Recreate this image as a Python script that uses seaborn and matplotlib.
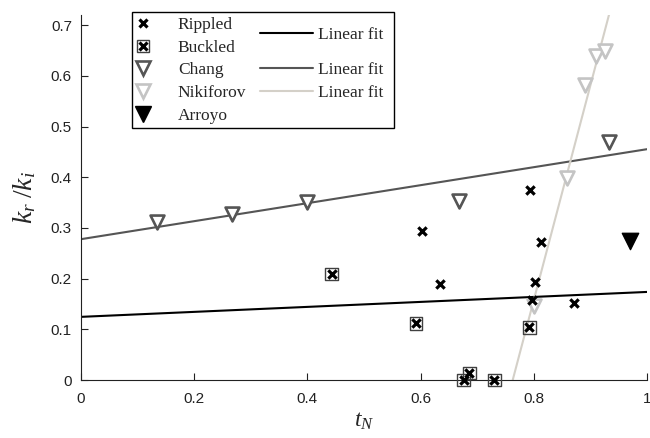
import numpy as np
import matplotlib
matplotlib.use('Agg')
import matplotlib.pyplot as plt
import seaborn as sns
from matplotlib.lines import Line2D
from matplotlib.patches import Rectangle
from matplotlib.ticker import FormatStrFormatter

# data
rippled_t = [0.603, 0.634, 0.794, 0.812, 0.802, 0.797, 0.871]
rippled_k = [0.293, 0.190, 0.374, 0.273, 0.194, 0.158, 0.152]
buckled_t = [0.443, 0.592, 0.792, 0.686, 0.676, 0.730]
buckled_k = [0.209, 0.112, 0.104, 0.014, 0.000, 0.000]
chang_t = [0.134, 0.266, 0.400, 0.667, 0.933]
chang_k = [0.311, 0.328, 0.352, 0.354, 0.470]
nikiforov_t = [0.800, 0.858, 0.890, 0.910, 0.926]
nikiforov_k = [0.146, 0.399, 0.581, 0.640, 0.649]
arroyo_t = [0.970]
arroyo_k = [0.275]

x_ticks = [0, 0.2, 0.4, 0.6, 0.8, 1.0]
y_ticks = [0, 0.1, 0.2, 0.3, 0.4, 0.5, 0.6, 0.7]

sns.set_style('ticks')
plt.rcParams['font.family'] = ['Liberation Sans', 'DejaVu Sans']
plt.rcParams['mathtext.fontset'] = 'custom'
plt.rcParams['mathtext.it'] = 'Liberation Serif:italic'
plt.rcParams['mathtext.rm'] = 'Liberation Serif'
plt.rcParams['xtick.direction'] = 'in'
plt.rcParams['ytick.direction'] = 'in'

dark = '#555555'
light = '#c4c4c4'
fitlight = '#d4d0c8'

fig = plt.figure(figsize=(6.5, 4.38), dpi=100)
ax = fig.add_axes([81/650, 1-380/438, 566/650, 365/438])

# linear fits (rippled fit uses all wrinkled samples)
xs = np.linspace(0, 1, 200)
p_all = np.polyfit(rippled_t + buckled_t, rippled_k + buckled_k, 1)
p_chang = np.polyfit(chang_t, chang_k, 1)
p_nik = np.polyfit(nikiforov_t, nikiforov_k, 1)
sns.lineplot(x=xs, y=np.polyval(p_all, xs), color='black', lw=1.5, ax=ax, zorder=2)
sns.lineplot(x=xs, y=np.polyval(p_chang, xs), color=dark, lw=1.5, ax=ax, zorder=2)
sns.lineplot(x=xs, y=np.polyval(p_nik, xs), color=fitlight, lw=1.5, ax=ax, zorder=2)

# markers
sns.scatterplot(x=buckled_t, y=buckled_k, marker='s', s=85, facecolor='none',
                edgecolor='#404040', linewidth=1.0, ax=ax, zorder=3, clip_on=False)
sns.scatterplot(x=buckled_t, y=buckled_k, marker='x', s=36, color='black',
                linewidth=2.3, ax=ax, zorder=4, clip_on=False)
sns.scatterplot(x=rippled_t, y=rippled_k, marker='x', s=36, color='black',
                linewidth=2.3, ax=ax, zorder=4)
sns.scatterplot(x=chang_t, y=chang_k, marker='v', s=100, facecolor='white',
                edgecolor=dark, linewidth=1.9, ax=ax, zorder=3)
sns.scatterplot(x=nikiforov_t, y=nikiforov_k, marker='v', s=100, facecolor='white',
                edgecolor=light, linewidth=1.9, ax=ax, zorder=3)
sns.scatterplot(x=arroyo_t, y=arroyo_k, marker='v', s=140, color='black',
                edgecolor='black', ax=ax, zorder=3)

ax.set_xlim(0, 1)
ax.set_ylim(0, 0.72)
ax.set_xticks(x_ticks)
ax.set_yticks(y_ticks)
ax.xaxis.set_major_formatter(FormatStrFormatter('%g'))
ax.yaxis.set_major_formatter(FormatStrFormatter('%g'))
ax.tick_params(labelsize=11, length=5, width=0.8, colors='#222222')
ax.tick_params(axis='x', pad=8.5)
ax.tick_params(axis='y', pad=6.5)
sns.despine(ax=ax)
for s in ['left', 'bottom']:
    ax.spines[s].set_color('#222222')
    ax.spines[s].set_linewidth(0.8)

ax.set_xlabel(r'$t_N$', fontsize=17, labelpad=3)
ax.set_ylabel(r'$k_r\;/k_i$', fontsize=20, labelpad=9)

# legend: marker column plus the fit lines, inside one frame
lp = {'family': 'Liberation Serif', 'size': 12.5}
h_rip = Line2D([], [], ls='none', marker='x', ms=6, mew=2.3, color='black')
h_sq = Line2D([], [], ls='none', marker='s', ms=9.2, mew=1.0, mfc='none', mec='#404040')
h_buc = (h_sq, h_rip)
h_chang = Line2D([], [], ls='none', marker='v', ms=10, mew=1.9, mfc='white', mec=dark)
h_nik = Line2D([], [], ls='none', marker='v', ms=10, mew=1.9, mfc='white', mec=light)
h_arr = Line2D([], [], ls='none', marker='v', ms=11.5, color='black')
leg_kw = dict(loc='upper left', frameon=False, prop=lp, borderaxespad=0)
leg1 = ax.legend([h_rip, h_buc, h_chang, h_nik, h_arr],
                 ['Rippled', 'Buckled', 'Chang', 'Nikiforov', 'Arroyo'],
                 bbox_to_anchor=(0.079, 1.014), handlelength=1.15,
                 handletextpad=1.45, labelspacing=0.38, **leg_kw)
ax.add_artist(leg1)
leg2 = ax.legend([Line2D([], [], color='black', lw=1.5)], ['Linear fit'],
                 bbox_to_anchor=(0.304, 0.987), handlelength=3.05,
                 handletextpad=0.3, **leg_kw)
ax.add_artist(leg2)
ax.legend([Line2D([], [], color=dark, lw=1.5), Line2D([], [], color=fitlight, lw=1.5)],
          ['Linear fit', 'Linear fit'],
          bbox_to_anchor=(0.304, 0.891), handlelength=3.05,
          handletextpad=0.3, labelspacing=0.38, **leg_kw)
ax.add_patch(Rectangle((51/566, 252/365), 262/566, 116/365, transform=ax.transAxes,
                       fill=False, edgecolor='black', lw=1.0, clip_on=False, zorder=5))

fig.savefig('out.png', dpi=100)
